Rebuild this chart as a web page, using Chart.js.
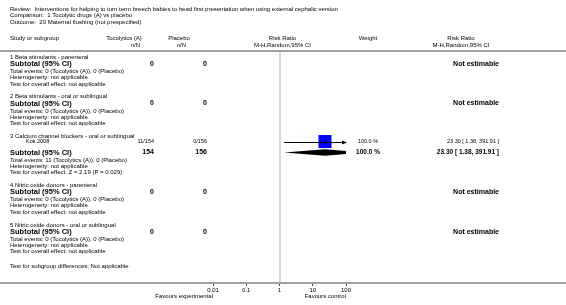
<!DOCTYPE html>
<html>
<head>
<meta charset="utf-8">
<script src="https://cdn.jsdelivr.net/npm/chart.js@4.4.0/dist/chart.umd.min.js"></script>
<style>
html, body { margin: 0; padding: 0; background: #fff; }
#wrap { width: 566px; height: 305px; }
</style>
</head>
<body>
<div id="wrap"><canvas id="myChart" width="566" height="305"></canvas></div>
<script>
// subgroups
const groupNames = ['1 Beta stimulants - parenteral', '2 Beta stimulants - oral or sublingual',
  '3 Calcium channel blockers - oral or sublingual', '4 Nitric oxide donors - parenteral',
  '5 Nitric oxide donors - oral or sublingual'];
const totalA = [0, 0, 154, 0, 0];
const totalP = [0, 0, 156, 0, 0];
const eventsA = [0, 0, 11, 0, 0];
const eventsP = [0, 0, 0, 0, 0];
const overallTest = ['not applicable', 'not applicable', 'Z = 2.19 (P = 0.029)', 'not applicable', 'not applicable'];
const subRR = [null, null, 23.30, null, null];
const subLo = [null, null, 1.38, null, null];
const subHi = [null, null, 391.91, null, null];
const subWeight = [null, null, 100.0, null, null];

// studies
const studyNames = ['Kok 2008'];
const studyGroup = [2];
const studyA = ['11/154'];
const studyP = ['0/156'];
const studyRR = [23.30];
const studyLo = [1.38];
const studyHi = [391.91];
const studyWeight = [100.0];

// axis
const tickValues = [0.01, 0.1, 1, 10, 100];
const tickLabels = ['0.01', '0.1', '1', '10', '100'];

const FONT = '"Liberation Sans", Arial, sans-serif';

// row layout (in row units of the y scale)
var rows = [];
var studyRow = [];
var subRow = [];
var cur = 0.95;
for (var g = 0; g < groupNames.length; g++) {
  rows.push({ y: cur, kind: 'title', g: g });
  var has = false;
  for (var s = 0; s < studyNames.length; s++) {
    if (studyGroup[s] === g) {
      cur += 0.8;
      studyRow[s] = cur;
      rows.push({ y: cur, kind: 'study', s: s });
      has = true;
    }
  }
  cur += has ? 1.7 : 1.05;
  subRow[g] = cur;
  rows.push({ y: cur, kind: 'sub', g: g });
  rows.push({ y: cur + 1.15, kind: 'events', g: g });
  rows.push({ y: cur + 2.1, kind: 'het', g: g });
  rows.push({ y: cur + 3.1, kind: 'test', g: g });
  cur += 3.1 + 2.0;
}
var diffRow = cur - 2.0 + 2.2;

function fmt(v) { return v.toFixed(2); }

const forestPlugin = {
  id: 'forest',
  beforeDatasetsDraw(chart) {
    const c = chart.ctx, a = chart.chartArea, x = chart.scales.x;
    c.save();
    // line of no effect
    c.strokeStyle = '#d6d6d6';
    c.lineWidth = 2;
    c.beginPath();
    c.moveTo(Math.round(x.getPixelForValue(1)), a.top);
    c.lineTo(Math.round(x.getPixelForValue(1)), a.bottom);
    c.stroke();
    c.restore();
  },
  afterDatasetsDraw(chart) {
    const c = chart.ctx, a = chart.chartArea, x = chart.scales.x, y = chart.scales.y;
    c.save();
    // study CI lines, arrow when the CI runs past the axis
    c.strokeStyle = '#000';
    c.fillStyle = '#000';
    c.lineWidth = 1;
    for (var s = 0; s < studyNames.length; s++) {
      var py = Math.round(y.getPixelForValue(studyRow[s])) + 0.5;
      var x0 = Math.max(a.left, x.getPixelForValue(studyLo[s]));
      var x1 = Math.min(a.right, x.getPixelForValue(studyHi[s]));
      c.beginPath();
      c.moveTo(x0, py); c.lineTo(x1, py);
      var xe = x.getPixelForValue(studyRR[s]);
      c.moveTo(xe, py - 2); c.lineTo(xe, py + 2);
      c.stroke();
      if (studyHi[s] > x.max) {
        c.beginPath();
        c.moveTo(a.right + 1, py); c.lineTo(a.right - 4, py - 2); c.lineTo(a.right - 4, py + 2);
        c.closePath(); c.fill();
      }
    }
    // subtotal diamonds
    c.beginPath();
    c.rect(a.left, a.top, a.right - a.left, a.bottom - a.top);
    c.clip();
    for (var g = 0; g < groupNames.length; g++) {
      if (subRR[g] === null) continue;
      var cy = y.getPixelForValue(subRow[g]);
      var h = 3.2;
      c.beginPath();
      c.moveTo(x.getPixelForValue(subLo[g]), cy);
      c.lineTo(x.getPixelForValue(subRR[g]), cy - h);
      c.lineTo(x.getPixelForValue(subHi[g]), cy);
      c.lineTo(x.getPixelForValue(subRR[g]), cy + h);
      c.closePath();
      c.fill();
    }
    c.restore();
  },
  afterDraw(chart) {
    const c = chart.ctx, a = chart.chartArea, x = chart.scales.x, y = chart.scales.y;
    const W = chart.width;
    c.save();
    // separators
    c.strokeStyle = '#a0a0a0';
    c.lineWidth = 2;
    c.beginPath();
    c.moveTo(0, a.top); c.lineTo(W, a.top);
    c.moveTo(0, a.bottom); c.lineTo(W, a.bottom);
    c.stroke();

    c.fillStyle = '#000';
    c.textBaseline = 'middle';
    function t(str, px, py, align, size, bold) {
      c.font = (bold ? 'bold ' : '') + size + 'px ' + FONT;
      c.textAlign = align || 'left';
      c.fillText(str, px, py);
    }
    const xOne = x.getPixelForValue(1) + 3;
    const colA = 154, colP = 207, colW = 368, colRR = 499, colHR = 461;

    t('Review:  Interventions for helping to turn term breech babies to head first presentation when using external cephalic version', 10, 9, 'left', 6);
    t('Comparison:  1 Tocolytic drugs (A) vs placebo', 10, 15.5, 'left', 6);
    t('Outcome:  20 Maternal flushing (not prespecified)', 10, 22, 'left', 6);

    t('Study or subgroup', 10, 38, 'left', 6);
    t('Tocolytics (A)', 124, 38, 'center', 6);
    t('n/N', 140, 45, 'right', 6);
    t('Placebo', 179, 38, 'center', 6);
    t('n/N', 186, 45, 'right', 6);
    t('Risk Ratio', xOne, 38, 'center', 6);
    t('M-H,Random,95% CI', xOne, 45, 'center', 6);
    t('Weight', colW, 38, 'center', 6);
    t('Risk Ratio', colHR, 38, 'center', 6);
    t('M-H,Random,95% CI', colHR, 45, 'center', 6);

    rows.forEach(function (r) {
      var py = y.getPixelForValue(r.y);
      var g = r.g;
      if (r.kind === 'title') t(groupNames[g], 10, py, 'left', 6);
      else if (r.kind === 'study') {
        var s = r.s;
        t(studyNames[s], 26, py, 'left', 5.5);
        t(studyA[s], colA, py, 'right', 5.5);
        t(studyP[s], colP, py, 'right', 5.5);
        t(studyWeight[s].toFixed(1) + ' %', colW, py, 'center', 5.5);
        t(fmt(studyRR[s]) + ' [ ' + fmt(studyLo[s]) + ', ' + fmt(studyHi[s]) + ' ]', colRR, py, 'right', 5.5);
      } else if (r.kind === 'sub') {
        t('Subtotal (95% CI)', 10, py, 'left', 7.5, true);
        t(String(totalA[g]), colA, py, 'right', 7, true);
        t(String(totalP[g]), colP, py, 'right', 7, true);
        if (subRR[g] === null) {
          t('Not estimable', colRR, py, 'right', 7, true);
        } else {
          t(subWeight[g].toFixed(1) + ' %', colW, py, 'center', 6.5, true);
          t(fmt(subRR[g]) + ' [ ' + fmt(subLo[g]) + ', ' + fmt(subHi[g]) + ' ]', colRR, py, 'right', 6.5, true);
        }
      } else if (r.kind === 'events') {
        t('Total events: ' + eventsA[g] + ' (Tocolytics (A)), ' + eventsP[g] + ' (Placebo)', 10, py, 'left', 6);
      } else if (r.kind === 'het') {
        t('Heterogeneity: not applicable', 10, py, 'left', 6);
      } else if (r.kind === 'test') {
        t('Test for overall effect: ' + overallTest[g], 10, py, 'left', 6);
      }
    });
    t('Test for subgroup differences: Not applicable', 10, y.getPixelForValue(diffRow), 'left', 6);

    t('Favours experimental', x.getPixelForValue(0.01), 296, 'right', 6);
    t('Favours control', x.getPixelForValue(100), 296, 'right', 6);
    c.restore();
  }
};

var ctx = document.getElementById('myChart').getContext('2d');
var myChart = new Chart(ctx, {
  type: 'scatter',
  data: {
    datasets: [{
      label: 'Study',
      data: studyNames.map((n, i) => ({ x: studyRR[i], y: studyRow[i] })),
      pointStyle: 'rect',
      pointRadius: studyWeight.map(w => 9.2 * Math.sqrt(w / 100)),
      backgroundColor: '#0000ff',
      borderColor: '#0000ff',
      borderWidth: 0
    }]
  },
  options: {
    responsive: false,
    animation: false,
    events: [],
    layout: { padding: { left: 213, right: 220, top: 51, bottom: 0 } },
    plugins: { legend: { display: false }, tooltip: { enabled: false } },
    scales: {
      x: {
        type: 'logarithmic',
        min: 0.01,
        max: 100,
        position: 'bottom',
        afterBuildTicks: s => { s.ticks = tickValues.map(v => ({ value: v })); },
        afterFit: s => { s.height = 22; },
        border: { display: false },
        grid: { drawOnChartArea: false, drawTicks: true, tickLength: 3, color: '#444' },
        ticks: {
          font: { family: FONT, size: 6 },
          color: '#000',
          padding: 1,
          maxRotation: 0,
          autoSkip: false,
          callback: (v, i) => tickLabels[i]
        }
      },
      y: {
        type: 'linear',
        min: 0,
        max: 36,
        reverse: true,
        display: false
      }
    }
  },
  plugins: [forestPlugin]
});
</script>
</body>
</html>
